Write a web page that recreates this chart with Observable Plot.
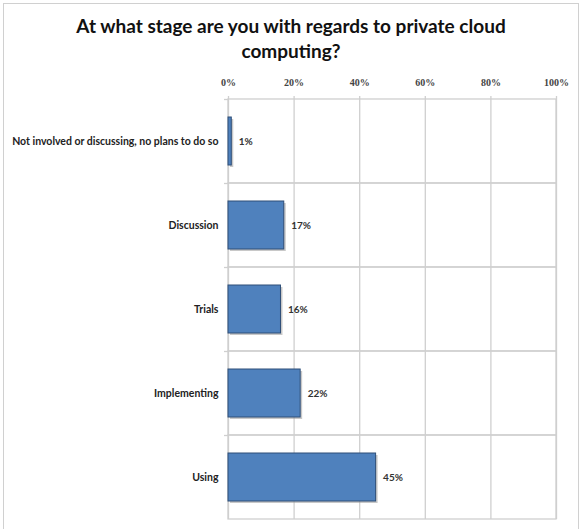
<!DOCTYPE html>
<html>
<head>
<meta charset="utf-8">
<script src="https://cdn.jsdelivr.net/npm/d3@7"></script>
<script src="https://cdn.jsdelivr.net/npm/@observablehq/plot@0.6"></script>
<style>
  html, body { margin: 0; padding: 0; background: #fff; }
  #wrap { position: relative; width: 582px; height: 529px; overflow: hidden; background: #fff; }
  #border { position: absolute; left: 3px; top: 3px; width: 576px; height: 530px; border: 1.5px solid #d0d0d0; box-sizing: border-box; }
  #title { position: absolute; left: 0; top: 13px; width: 582px; text-align: center;
           font-family: Lato, "Open Sans", sans-serif; font-weight: bold; font-size: 19px; line-height: 25px; color: #111; }
  #chart { position: absolute; left: 0; top: 0; }
</style>
</head>
<body>
<div id="wrap">
  <div id="border"></div>
  <div id="chart"></div>
  <div id="title">At what stage are you with regards to private cloud<br>computing?</div>
</div>
<script>
const categories = [
  "Not involved or discussing, no plans to do so",
  "Discussion",
  "Trials",
  "Implementing",
  "Using"
];
const values = [0.01, 0.17, 0.16, 0.22, 0.45];
const tickValues = [0, 0.2, 0.4, 0.6, 0.8, 1.0];

const data = categories.map((c, i) => ({cat: c, value: values[i]}));

const chart = Plot.plot({
  width: 582,
  height: 529,
  marginLeft: 228,
  marginRight: 26,
  marginTop: 99,
  marginBottom: 10,
  style: {fontFamily: "Lato, 'Open Sans', sans-serif", fontSize: "10px", background: "transparent", color: "#333"},
  x: {domain: [0, 1], ticks: tickValues, label: null},
  y: {domain: categories, padding: 0, label: null},
  marks: [
    // vertical gridlines, extending slightly above plot
    Plot.ruleX(tickValues, {x: d => d, stroke: "#cfcfcf", strokeWidth: 1.3, insetTop: -3}),
    // band boundaries (horizontal lines + frame)
    Plot.rect(categories, {y: d => d, x1: 0, x2: 1, fill: "none", stroke: "#cfcfcf", strokeWidth: 1.3}),
    // left ticks at band boundaries
    Plot.tickY(categories, {y: d => d, dy: -42, stroke: "#cfcfcf", strokeWidth: 1.3, insetLeft: -4, insetRight: 328}),
    // shadow
    Plot.barX(data, {x: "value", y: "cat", fill: "#9a9a9a", fillOpacity: 0.55, insetTop: 18, insetBottom: 18, dx: 2, dy: 2}),
    // bars
    Plot.barX(data, {x: "value", y: "cat", fill: "#4F81BD", stroke: "#2f4f78", strokeWidth: 1, insetTop: 18, insetBottom: 18}),
    // value labels
    Plot.text(data, {x: "value", y: "cat", text: d => d3.format(".0%")(d.value), dx: 7, textAnchor: "start",
      fontWeight: "bold", fontSize: 10, fill: "#333"}),
    Plot.axisX({anchor: "top", ticks: tickValues, tickFormat: d3.format(".0%"), tickSize: 0, tickPadding: 14, label: null,
      fontWeight: "bold", fontSize: 10, fontFamily: "'Liberation Serif', serif", fill: "#444"}),
    Plot.axisY({anchor: "left", tickSize: 0, tickPadding: 10, label: null, fontWeight: "bold", fontSize: 10.5, fill: "#222"})
  ]
});
document.getElementById("chart").appendChild(chart);
</script>
</body>
</html>
